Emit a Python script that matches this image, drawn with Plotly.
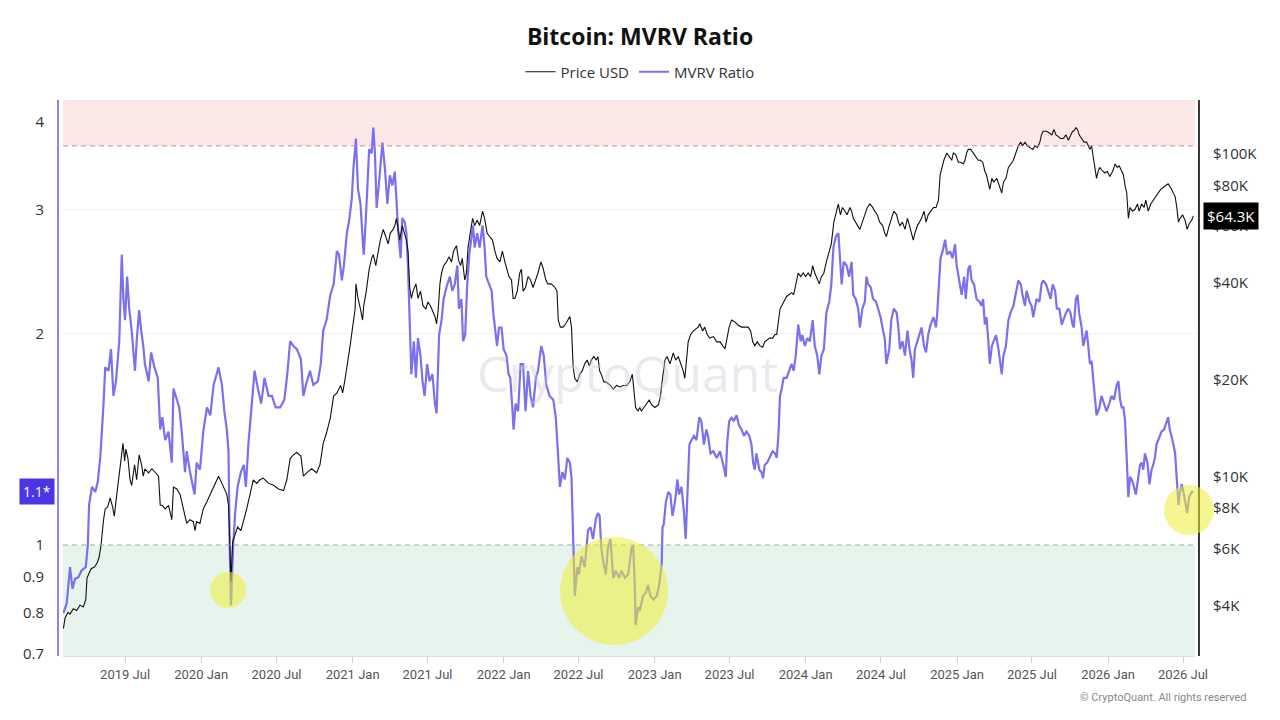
import numpy as np
import plotly.graph_objects as go

# ---------------- data ----------------
mvrv_dates = [
    "2019-02-02", "2019-02-10", "2019-02-18", "2019-02-24", "2019-03-02", "2019-03-10", "2019-03-18", "2019-03-28",
    "2019-04-02", "2019-04-05", "2019-04-12", "2019-04-20", "2019-04-26", "2019-05-02", "2019-05-10", "2019-05-14",
    "2019-05-22", "2019-05-28", "2019-06-03", "2019-06-09", "2019-06-17", "2019-06-23", "2019-06-27", "2019-07-01",
    "2019-07-06", "2019-07-11", "2019-07-17", "2019-07-25", "2019-07-29", "2019-08-04", "2019-08-09", "2019-08-14",
    "2019-08-18", "2019-08-27", "2019-09-02", "2019-09-10", "2019-09-18", "2019-09-24", "2019-09-29", "2019-10-06",
    "2019-10-14", "2019-10-22", "2019-10-26", "2019-11-01", "2019-11-09", "2019-11-15", "2019-11-23", "2019-11-27",
    "2019-12-05", "2019-12-16", "2019-12-21", "2019-12-29", "2020-01-06", "2020-01-15", "2020-01-23", "2020-01-31",
    "2020-02-12", "2020-02-20", "2020-02-26", "2020-03-03", "2020-03-07", "2020-03-10", "2020-03-13", "2020-03-18",
    "2020-03-23", "2020-03-29", "2020-04-06", "2020-04-13", "2020-04-18", "2020-04-24", "2020-05-02", "2020-05-09",
    "2020-05-17", "2020-05-25", "2020-06-02", "2020-06-12", "2020-06-20", "2020-06-29", "2020-07-10", "2020-07-20",
    "2020-07-27", "2020-08-03", "2020-08-11", "2020-08-19", "2020-08-29", "2020-09-04", "2020-09-10", "2020-09-20",
    "2020-09-28", "2020-10-09", "2020-10-16", "2020-10-22", "2020-10-30", "2020-11-08", "2020-11-16", "2020-11-24",
    "2020-11-29", "2020-12-06", "2020-12-11", "2020-12-18", "2020-12-23", "2020-12-30", "2021-01-03", "2021-01-07",
    "2021-01-09", "2021-01-14", "2021-01-20", "2021-01-26", "2021-01-28", "2021-02-02", "2021-02-10", "2021-02-16",
    "2021-02-20", "2021-02-24", "2021-02-28", "2021-03-06", "2021-03-14", "2021-03-20", "2021-03-26", "2021-04-01",
    "2021-04-07", "2021-04-13", "2021-04-17", "2021-04-21", "2021-04-27", "2021-05-01", "2021-05-07", "2021-05-11",
    "2021-05-15", "2021-05-19", "2021-05-23", "2021-05-29", "2021-06-03", "2021-06-08", "2021-06-14", "2021-06-19",
    "2021-06-24", "2021-06-30", "2021-07-06", "2021-07-13", "2021-07-19", "2021-07-23", "2021-07-29", "2021-08-04",
    "2021-08-09", "2021-08-16", "2021-08-24", "2021-08-30", "2021-09-05", "2021-09-11", "2021-09-15", "2021-09-21",
    "2021-09-25", "2021-09-30", "2021-10-05", "2021-10-10", "2021-10-15", "2021-10-19", "2021-10-23", "2021-10-29",
    "2021-11-04", "2021-11-11", "2021-11-16", "2021-11-20", "2021-11-27", "2021-12-03", "2021-12-07", "2021-12-11",
    "2021-12-16", "2021-12-21", "2021-12-27", "2022-01-01", "2022-01-08", "2022-01-13", "2022-01-17", "2022-01-22",
    "2022-01-25", "2022-01-30", "2022-02-05", "2022-02-11", "2022-02-17", "2022-02-23", "2022-03-01", "2022-03-07",
    "2022-03-13", "2022-03-20", "2022-03-25", "2022-04-02", "2022-04-08", "2022-04-14", "2022-04-22", "2022-05-01",
    "2022-05-07", "2022-05-13", "2022-05-17", "2022-05-23", "2022-05-29", "2022-06-04", "2022-06-10", "2022-06-14",
    "2022-06-18", "2022-06-22", "2022-06-28", "2022-07-02", "2022-07-08", "2022-07-16", "2022-07-24", "2022-07-30",
    "2022-08-05", "2022-08-12", "2022-08-17", "2022-08-21", "2022-08-25", "2022-08-29", "2022-09-05", "2022-09-10",
    "2022-09-16", "2022-09-23", "2022-09-29", "2022-10-07", "2022-10-13", "2022-10-21", "2022-10-29", "2022-11-06",
    "2022-11-10", "2022-11-14", "2022-11-16", "2022-11-22", "2022-11-26", "2022-11-28", "2022-12-04", "2022-12-11",
    "2022-12-16", "2022-12-22", "2022-12-29", "2023-01-06", "2023-01-12", "2023-01-18", "2023-01-20", "2023-01-23",
    "2023-01-28", "2023-02-03", "2023-02-08", "2023-02-13", "2023-02-19", "2023-02-25", "2023-03-01", "2023-03-07",
    "2023-03-13", "2023-03-17", "2023-03-21", "2023-03-26", "2023-03-31", "2023-04-06", "2023-04-12", "2023-04-19",
    "2023-04-24", "2023-04-30", "2023-05-06", "2023-05-10", "2023-05-16", "2023-05-23", "2023-05-31", "2023-06-08",
    "2023-06-16", "2023-06-22", "2023-06-25", "2023-06-30", "2023-07-06", "2023-07-11", "2023-07-18", "2023-07-24",
    "2023-07-30", "2023-08-05", "2023-08-11", "2023-08-18", "2023-08-23", "2023-08-27", "2023-08-31", "2023-09-04",
    "2023-09-11", "2023-09-16", "2023-09-20", "2023-09-24", "2023-09-30", "2023-10-06", "2023-10-13", "2023-10-19",
    "2023-10-23", "2023-10-27", "2023-10-31", "2023-11-04", "2023-11-09", "2023-11-16", "2023-11-22", "2023-11-28",
    "2023-12-03", "2023-12-08", "2023-12-14", "2023-12-20", "2023-12-24", "2023-12-30", "2024-01-05", "2024-01-11",
    "2024-01-18", "2024-01-23", "2024-01-29", "2024-02-03", "2024-02-08", "2024-02-14", "2024-02-20", "2024-02-27",
    "2024-03-03", "2024-03-08", "2024-03-14", "2024-03-20", "2024-03-24", "2024-03-28", "2024-04-02", "2024-04-09",
    "2024-04-15", "2024-04-21", "2024-04-25", "2024-05-01", "2024-05-07", "2024-05-11", "2024-05-17", "2024-05-23",
    "2024-05-27", "2024-05-31", "2024-06-06", "2024-06-12", "2024-06-19", "2024-06-24", "2024-06-30", "2024-07-06",
    "2024-07-10", "2024-07-14", "2024-07-21", "2024-07-26", "2024-08-01", "2024-08-08", "2024-08-12", "2024-08-16",
    "2024-08-22", "2024-08-28", "2024-09-03", "2024-09-08", "2024-09-13", "2024-09-17", "2024-09-21", "2024-09-27",
    "2024-10-02", "2024-10-07", "2024-10-13", "2024-10-18", "2024-10-23", "2024-10-29", "2024-11-05", "2024-11-11",
    "2024-11-14", "2024-11-19", "2024-11-22", "2024-11-27", "2024-12-03", "2024-12-08", "2024-12-15", "2024-12-21",
    "2024-12-27", "2024-12-31", "2025-01-04", "2025-01-08", "2025-01-12", "2025-01-18", "2025-01-22", "2025-01-28",
    "2025-02-01", "2025-02-05", "2025-02-11", "2025-02-17", "2025-02-24", "2025-03-01", "2025-03-05", "2025-03-09",
    "2025-03-13", "2025-03-17", "2025-03-21", "2025-03-26", "2025-03-31", "2025-04-05", "2025-04-11", "2025-04-15",
    "2025-04-19", "2025-04-23", "2025-04-29", "2025-05-05", "2025-05-10", "2025-05-17", "2025-05-23", "2025-05-29",
    "2025-06-04", "2025-06-08", "2025-06-14", "2025-06-18", "2025-06-25", "2025-06-30", "2025-07-04", "2025-07-08",
    "2025-07-12", "2025-07-19", "2025-07-24", "2025-07-28", "2025-08-04", "2025-08-09", "2025-08-15", "2025-08-20",
    "2025-08-26", "2025-08-30", "2025-09-05", "2025-09-11", "2025-09-15", "2025-09-21", "2025-09-27", "2025-10-02",
    "2025-10-07", "2025-10-10", "2025-10-15", "2025-10-19", "2025-10-23", "2025-10-29", "2025-11-02", "2025-11-06",
    "2025-11-10", "2025-11-14", "2025-11-18", "2025-11-22", "2025-11-26", "2025-11-30", "2025-12-04", "2025-12-11",
    "2025-12-16", "2025-12-22", "2025-12-28", "2026-01-04", "2026-01-09", "2026-01-15", "2026-01-22", "2026-01-26",
    "2026-01-30", "2026-02-03", "2026-02-07", "2026-02-11", "2026-02-15", "2026-02-19", "2026-02-23", "2026-02-27",
    "2026-03-03", "2026-03-09", "2026-03-15", "2026-03-19", "2026-03-23", "2026-03-27", "2026-03-31", "2026-04-06",
    "2026-04-11", "2026-04-16", "2026-04-20", "2026-04-24", "2026-04-28", "2026-05-05", "2026-05-10", "2026-05-16",
    "2026-05-22", "2026-05-26", "2026-05-30", "2026-06-03", "2026-06-08", "2026-06-12", "2026-06-16", "2026-06-20",
    "2026-06-24", "2026-06-28", "2026-07-02", "2026-07-06", "2026-07-11", "2026-07-16", "2026-07-22", "2026-07-26",
]
mvrv_values = [
    0.80, 0.826, 0.93, 0.866, 0.895, 0.90, 0.92, 0.93,
    1.00, 1.14, 1.21, 1.19, 1.23, 1.33, 1.59, 1.79,
    1.77, 1.90, 1.63, 1.71, 1.95, 2.59, 2.24, 2.09,
    2.41, 2.17, 2.02, 1.77, 1.95, 2.16, 2.02, 1.92,
    1.81, 1.71, 1.88, 1.79, 1.73, 1.46, 1.52, 1.41,
    1.45, 1.31, 1.67, 1.63, 1.57, 1.45, 1.27, 1.36,
    1.27, 1.18, 1.31, 1.28, 1.45, 1.57, 1.53, 1.69,
    1.79, 1.69, 1.55, 1.46, 1.36, 0.99, 0.82, 0.99,
    1.11, 1.21, 1.27, 1.30, 1.21, 1.39, 1.59, 1.77,
    1.67, 1.59, 1.73, 1.63, 1.63, 1.57, 1.57, 1.61,
    1.75, 1.95, 1.92, 1.90, 1.84, 1.63, 1.69, 1.77,
    1.69, 1.71, 1.81, 2.02, 2.09, 2.27, 2.35, 2.62,
    2.59, 2.38, 2.50, 2.78, 2.88, 3.11, 3.44, 3.70,
    3.79, 3.21, 3.06, 2.68, 2.59, 2.92, 3.66, 3.61,
    3.93, 3.61, 3.02, 3.29, 3.74, 3.44, 3.06, 3.36,
    3.25, 3.40, 3.06, 2.81, 2.56, 2.92, 2.88, 2.78,
    2.47, 2.14, 1.75, 1.95, 1.73, 1.97, 1.86, 1.71,
    1.63, 1.81, 1.71, 1.75, 1.59, 1.54, 1.99, 2.09,
    2.24, 2.33, 2.41, 2.30, 2.35, 2.50, 2.17, 2.24,
    1.95, 1.99, 2.35, 2.59, 2.75, 2.85, 2.65, 2.78,
    2.65, 2.85, 2.65, 2.41, 2.35, 2.30, 2.14, 2.04,
    1.92, 2.04, 2.04, 1.90, 1.86, 1.75, 1.73, 1.57,
    1.46, 1.59, 1.55, 1.81, 1.81, 1.55, 1.77, 1.63,
    1.57, 1.73, 1.77, 1.92, 1.86, 1.69, 1.63, 1.61,
    1.52, 1.33, 1.21, 1.27, 1.24, 1.33, 1.31, 1.25,
    0.99, 0.846, 0.93, 0.908, 0.964, 0.93, 1.05, 1.06,
    1.02, 1.09, 1.11, 1.10, 0.99, 0.953, 0.908, 0.99,
    1.02, 0.898, 0.919, 0.898, 0.919, 0.898, 0.908, 0.99,
    1.00, 0.877, 0.769, 0.816, 0.806, 0.816, 0.846, 0.856,
    0.877, 0.846, 0.836, 0.846, 0.877, 0.942, 1.06, 1.07,
    1.15, 1.19, 1.18, 1.10, 1.15, 1.24, 1.18, 1.21,
    1.11, 1.02, 1.21, 1.39, 1.41, 1.43, 1.41, 1.52,
    1.50, 1.39, 1.46, 1.43, 1.35, 1.36, 1.33, 1.36,
    1.30, 1.25, 1.39, 1.50, 1.52, 1.50, 1.53, 1.48,
    1.46, 1.43, 1.45, 1.43, 1.39, 1.31, 1.28, 1.35,
    1.28, 1.27, 1.245, 1.30, 1.31, 1.33, 1.36, 1.35,
    1.33, 1.43, 1.63, 1.67, 1.73, 1.73, 1.77, 1.81,
    1.77, 1.86, 2.06, 1.95, 1.99, 1.92, 1.97, 1.95,
    2.09, 1.92, 1.86, 1.75, 1.86, 1.90, 2.14, 2.22,
    2.35, 2.65, 2.75, 2.78, 2.56, 2.35, 2.53, 2.50,
    2.41, 2.53, 2.27, 2.24, 2.17, 2.04, 2.17, 2.22,
    2.41, 2.35, 2.33, 2.24, 2.22, 2.17, 2.11, 2.02,
    1.97, 1.81, 1.90, 2.09, 2.17, 2.14, 2.04, 1.90,
    1.95, 1.86, 2.02, 1.90, 1.83, 1.73, 1.90, 1.95,
    1.99, 2.04, 1.92, 1.88, 1.99, 2.06, 2.11, 2.04,
    2.14, 2.41, 2.56, 2.62, 2.72, 2.59, 2.62, 2.56,
    2.68, 2.50, 2.41, 2.33, 2.27, 2.41, 2.24, 2.47,
    2.50, 2.38, 2.35, 2.24, 2.22, 2.19, 2.24, 2.06,
    2.11, 1.97, 1.81, 1.92, 1.95, 1.99, 1.90, 1.81,
    1.75, 1.86, 1.92, 2.09, 2.14, 2.19, 2.30, 2.38,
    2.35, 2.27, 2.19, 2.30, 2.22, 2.19, 2.11, 2.19,
    2.24, 2.22, 2.35, 2.38, 2.35, 2.30, 2.24, 2.35,
    2.30, 2.17, 2.17, 2.06, 2.09, 2.14, 2.17, 2.14,
    2.06, 2.04, 2.24, 2.27, 2.14, 2.04, 1.92, 1.97,
    2.02, 1.92, 1.81, 1.83, 1.71, 1.63, 1.53, 1.57,
    1.63, 1.59, 1.55, 1.59, 1.63, 1.61, 1.69, 1.71,
    1.61, 1.57, 1.57, 1.50, 1.33, 1.17, 1.25, 1.24,
    1.22, 1.18, 1.25, 1.30, 1.31, 1.28, 1.35, 1.31,
    1.22, 1.28, 1.30, 1.33, 1.39, 1.43, 1.45, 1.46,
    1.50, 1.52, 1.46, 1.43, 1.39, 1.35, 1.24, 1.14,
    1.19, 1.22, 1.19, 1.15, 1.11, 1.17, 1.19, 1.19,
]

price_dates = [
    "2019-02-02", "2019-02-06", "2019-02-13", "2019-02-18", "2019-02-26", "2019-03-06", "2019-03-14", "2019-03-22",
    "2019-03-28", "2019-03-31", "2019-04-04", "2019-04-10", "2019-04-18", "2019-04-24", "2019-04-29", "2019-05-04",
    "2019-05-10", "2019-05-14", "2019-05-20", "2019-05-26", "2019-06-01", "2019-06-05", "2019-06-11", "2019-06-19",
    "2019-06-26", "2019-06-30", "2019-07-03", "2019-07-08", "2019-07-13", "2019-07-17", "2019-07-24", "2019-07-29",
    "2019-08-04", "2019-08-10", "2019-08-14", "2019-08-18", "2019-08-27", "2019-09-04", "2019-09-12", "2019-09-20",
    "2019-09-24", "2019-09-29", "2019-10-06", "2019-10-14", "2019-10-22", "2019-10-26", "2019-11-03", "2019-11-11",
    "2019-11-19", "2019-11-27", "2019-12-05", "2019-12-13", "2019-12-17", "2019-12-21", "2019-12-29", "2020-01-06",
    "2020-01-15", "2020-01-23", "2020-01-31", "2020-02-12", "2020-02-20", "2020-02-28", "2020-03-03", "2020-03-07",
    "2020-03-10", "2020-03-13", "2020-03-17", "2020-03-23", "2020-03-29", "2020-04-06", "2020-04-12", "2020-04-20",
    "2020-04-28", "2020-05-06", "2020-05-14", "2020-05-22", "2020-05-30", "2020-06-12", "2020-06-24", "2020-07-06",
    "2020-07-18", "2020-07-26", "2020-08-03", "2020-08-11", "2020-08-19", "2020-08-29", "2020-09-04", "2020-09-12",
    "2020-09-24", "2020-10-06", "2020-10-14", "2020-10-22", "2020-10-30", "2020-11-08", "2020-11-16", "2020-11-24",
    "2020-12-03", "2020-12-08", "2020-12-14", "2020-12-20", "2020-12-26", "2021-01-01", "2021-01-07", "2021-01-09",
    "2021-01-14", "2021-01-20", "2021-01-25", "2021-01-28", "2021-02-03", "2021-02-10", "2021-02-16", "2021-02-20",
    "2021-02-26", "2021-03-04", "2021-03-09", "2021-03-16", "2021-03-22", "2021-03-28", "2021-04-02", "2021-04-09",
    "2021-04-13", "2021-04-17", "2021-04-21", "2021-04-25", "2021-05-01", "2021-05-07", "2021-05-11", "2021-05-15",
    "2021-05-19", "2021-05-23", "2021-05-27", "2021-06-03", "2021-06-08", "2021-06-14", "2021-06-20", "2021-06-27",
    "2021-07-02", "2021-07-08", "2021-07-15", "2021-07-19", "2021-07-23", "2021-07-27", "2021-07-31", "2021-08-04",
    "2021-08-09", "2021-08-16", "2021-08-22", "2021-08-28", "2021-09-02", "2021-09-09", "2021-09-14", "2021-09-19",
    "2021-09-23", "2021-09-29", "2021-10-03", "2021-10-07", "2021-10-11", "2021-10-18", "2021-10-23", "2021-10-29",
    "2021-11-04", "2021-11-11", "2021-11-16", "2021-11-22", "2021-11-28", "2021-12-05", "2021-12-11", "2021-12-16",
    "2021-12-23", "2021-12-29", "2022-01-04", "2022-01-09", "2022-01-14", "2022-01-20", "2022-01-24", "2022-01-28",
    "2022-02-03", "2022-02-09", "2022-02-13", "2022-02-17", "2022-02-23", "2022-03-01", "2022-03-07", "2022-03-13",
    "2022-03-20", "2022-03-25", "2022-04-01", "2022-04-06", "2022-04-13", "2022-04-18", "2022-04-26", "2022-05-05",
    "2022-05-10", "2022-05-13", "2022-05-18", "2022-05-25", "2022-05-31", "2022-06-06", "2022-06-10", "2022-06-14",
    "2022-06-18", "2022-06-22", "2022-06-28", "2022-07-04", "2022-07-10", "2022-07-16", "2022-07-22", "2022-07-27",
    "2022-08-01", "2022-08-07", "2022-08-13", "2022-08-17", "2022-08-21", "2022-08-25", "2022-08-31", "2022-09-05",
    "2022-09-10", "2022-09-16", "2022-09-23", "2022-10-01", "2022-10-09", "2022-10-17", "2022-10-25", "2022-11-02",
    "2022-11-08", "2022-11-13", "2022-11-16", "2022-11-22", "2022-11-26", "2022-11-30", "2022-12-06", "2022-12-12",
    "2022-12-19", "2022-12-25", "2023-01-02", "2023-01-10", "2023-01-15", "2023-01-20", "2023-01-26", "2023-01-31",
    "2023-02-07", "2023-02-15", "2023-02-21", "2023-02-27", "2023-03-05", "2023-03-11", "2023-03-15", "2023-03-19",
    "2023-03-23", "2023-03-29", "2023-04-04", "2023-04-16", "2023-04-20", "2023-04-27", "2023-05-02", "2023-05-08",
    "2023-05-14", "2023-05-23", "2023-05-31", "2023-06-08", "2023-06-14", "2023-06-20", "2023-06-25", "2023-06-30",
    "2023-07-06", "2023-07-14", "2023-07-22", "2023-07-30", "2023-08-07", "2023-08-15", "2023-08-21", "2023-08-26",
    "2023-08-31", "2023-09-06", "2023-09-12", "2023-09-19", "2023-09-24", "2023-09-30", "2023-10-06", "2023-10-13",
    "2023-10-19", "2023-10-23", "2023-10-27", "2023-10-31", "2023-11-04", "2023-11-09", "2023-11-16", "2023-11-22",
    "2023-11-28", "2023-12-03", "2023-12-08", "2023-12-14", "2023-12-20", "2023-12-26", "2024-01-01", "2024-01-07",
    "2024-01-13", "2024-01-18", "2024-01-23", "2024-01-29", "2024-02-03", "2024-02-08", "2024-02-14", "2024-02-20",
    "2024-02-27", "2024-03-03", "2024-03-09", "2024-03-14", "2024-03-20", "2024-03-25", "2024-03-30", "2024-04-05",
    "2024-04-10", "2024-04-17", "2024-04-21", "2024-04-25", "2024-05-01", "2024-05-07", "2024-05-11", "2024-05-17",
    "2024-05-23", "2024-05-29", "2024-06-04", "2024-06-11", "2024-06-16", "2024-06-22", "2024-06-28", "2024-07-05",
    "2024-07-10", "2024-07-14", "2024-07-21", "2024-07-26", "2024-08-01", "2024-08-08", "2024-08-12", "2024-08-16",
    "2024-08-22", "2024-08-28", "2024-09-03", "2024-09-08", "2024-09-13", "2024-09-17", "2024-09-21", "2024-09-27",
    "2024-10-02", "2024-10-07", "2024-10-13", "2024-10-18", "2024-10-23", "2024-10-29", "2024-11-05", "2024-11-11",
    "2024-11-17", "2024-11-21", "2024-11-25", "2024-11-30", "2024-12-07", "2024-12-13", "2024-12-19", "2024-12-23",
    "2024-12-29", "2025-01-04", "2025-01-10", "2025-01-16", "2025-01-20", "2025-01-24", "2025-01-28", "2025-02-03",
    "2025-02-09", "2025-02-16", "2025-02-21", "2025-02-27", "2025-03-04", "2025-03-09", "2025-03-13", "2025-03-17",
    "2025-03-21", "2025-03-26", "2025-03-31", "2025-04-07", "2025-04-13", "2025-04-19", "2025-04-23", "2025-04-29",
    "2025-05-05", "2025-05-10", "2025-05-17", "2025-05-23", "2025-05-29", "2025-06-04", "2025-06-08", "2025-06-14",
    "2025-06-20", "2025-06-26", "2025-07-03", "2025-07-08", "2025-07-14", "2025-07-20", "2025-07-24", "2025-07-28",
    "2025-08-05", "2025-08-12", "2025-08-18", "2025-08-23", "2025-08-28", "2025-09-03", "2025-09-08", "2025-09-15",
    "2025-09-21", "2025-09-27", "2025-10-02", "2025-10-07", "2025-10-10", "2025-10-15", "2025-10-19", "2025-10-23",
    "2025-10-29", "2025-11-04", "2025-11-10", "2025-11-14", "2025-11-18", "2025-11-22", "2025-11-26", "2025-11-30",
    "2025-12-04", "2025-12-08", "2025-12-12", "2025-12-19", "2025-12-24", "2025-12-30", "2026-01-05", "2026-01-12",
    "2026-01-18", "2026-01-23", "2026-01-28", "2026-02-03", "2026-02-07", "2026-02-11", "2026-02-15", "2026-02-19",
    "2026-02-23", "2026-03-01", "2026-03-07", "2026-03-13", "2026-03-17", "2026-03-23", "2026-03-29", "2026-04-02",
    "2026-04-08", "2026-04-14", "2026-04-20", "2026-04-27", "2026-05-02", "2026-05-08", "2026-05-14", "2026-05-21",
    "2026-05-26", "2026-06-01", "2026-06-08", "2026-06-12", "2026-06-16", "2026-06-20", "2026-06-24", "2026-06-30",
    "2026-07-06", "2026-07-11", "2026-07-16", "2026-07-22", "2026-07-26",
]
price_values = [
    3390, 3660, 3810, 3760, 3910, 3860, 4010, 3960,
    4170, 4870, 5000, 5200, 5260, 5400, 5620, 6150,
    7370, 7960, 8070, 8610, 8070, 7560, 8830, 10600,
    12700, 11200, 12200, 11400, 9800, 9420, 10900, 9800,
    11700, 10900, 10050, 10600, 10300, 10600, 10300, 10050,
    8170, 8170, 7960, 8170, 7370, 9300, 9180, 8830,
    7960, 7180, 7370, 7270, 6820, 7270, 7180, 7960,
    8390, 8830, 9300, 10050, 9550, 9070, 8830, 8170,
    5990, 4750, 6310, 6640, 7000, 6820, 7270, 7960,
    8830, 9800, 9550, 9800, 9920, 9550, 9420, 9180,
    9070, 9800, 11400, 11700, 11900, 11600, 10050, 10300,
    10600, 10300, 10900, 12700, 13700, 15200, 17800, 18200,
    19200, 18200, 20200, 22400, 25500, 29100, 33100, 39600,
    35700, 33100, 30600, 33900, 37600, 44000, 47500, 48800,
    45100, 50000, 54100, 58400, 55500, 52700, 56900, 58400,
    60000, 63200, 58400, 54100, 60000, 56900, 54100, 50000,
    38600, 35700, 37600, 39600, 35700, 37600, 33900, 33100,
    34800, 33900, 32200, 31400, 29800, 33100, 39600, 42800,
    45100, 46300, 48100, 46300, 50000, 52000, 46900, 45100,
    47500, 40700, 42800, 51300, 55500, 63200, 60000, 62300,
    60000, 66500, 63200, 56900, 55500, 54100, 50000, 47500,
    46300, 50000, 46300, 44000, 41700, 40700, 35700, 35700,
    37600, 42800, 44000, 37600, 38600, 41700, 40700, 38600,
    40700, 42800, 46300, 44500, 40700, 39600, 39600, 38600,
    37600, 30600, 29100, 29100, 29800, 30600, 31400, 29100,
    21900, 20200, 19700, 20800, 21300, 22400, 23000, 22100,
    23000, 23600, 23000, 23600, 21300, 20800, 19700, 19700,
    19500, 19200, 18700, 19200, 19000, 19200, 19200, 19700,
    20800, 18200, 16400, 16000, 16400, 16000, 16400, 16900,
    17300, 16700, 16400, 16700, 17800, 20200, 23000, 23600,
    22400, 24200, 23000, 23600, 22400, 21300, 20200, 23000,
    26200, 27600, 28300, 29100, 29800, 28300, 29100, 27600,
    26900, 27200, 26200, 26200, 25500, 24900, 26900, 29100,
    30600, 30200, 29500, 29100, 29100, 29100, 28300, 26200,
    25500, 26200, 25500, 25200, 26200, 26500, 26900, 26900,
    27600, 27600, 29800, 33100, 33900, 34800, 36200, 36700,
    37200, 36700, 39600, 42800, 41700, 42800, 41700, 42800,
    41700, 45100, 42800, 40700, 39600, 41700, 42800, 46300,
    50000, 52700, 61500, 64800, 70000, 64800, 68300, 66500,
    64800, 68300, 66500, 63200, 61500, 60000, 58400, 61500,
    64800, 68300, 70000, 68300, 66500, 64800, 61500, 60000,
    56900, 55500, 60000, 63200, 66500, 64800, 61500, 60000,
    61500, 58400, 63200, 60000, 56900, 54100, 56900, 60000,
    61500, 63200, 66500, 61500, 64800, 66500, 68300, 68300,
    71900, 86200, 90800, 95600, 100700, 98100, 95600, 100700,
    99400, 94300, 94300, 93100, 95600, 100700, 103300, 103300,
    100700, 98100, 95600, 95600, 94300, 88400, 86200, 81800,
    77700, 84000, 81800, 84000, 79700, 75700, 81800, 84000,
    90800, 93100, 95600, 100700, 106000, 108800, 106000, 108800,
    106000, 104600, 103300, 106000, 104600, 108800, 114600, 117600,
    117600, 116100, 114600, 119100, 114600, 113100, 111600, 111600,
    114600, 110200, 114600, 117600, 117600, 120600, 119100, 114600,
    111600, 108800, 108800, 106000, 103300, 106000, 98100, 90800,
    84000, 88400, 90800, 88400, 87300, 88400, 85100, 88400,
    93100, 90800, 91900, 88400, 86200, 79700, 75700, 63200,
    68300, 66500, 67400, 70000, 66500, 70000, 68300, 71900,
    66500, 70000, 71900, 73800, 75700, 77700, 78700, 79700,
    80800, 78700, 75700, 73800, 68300, 61500, 63200, 64800,
    62300, 58400, 60800, 62300, 64300,
]

mvrv_ticks = [0.7, 0.8, 0.9, 1, 2, 3, 4]
price_ticks = [4000, 6000, 8000, 10000, 20000, 40000, 60000, 80000, 100000]
price_tick_labels = ["$4K", "$6K", "$8K", "$10K", "$20K", "$40K", "$60K", "$80K", "$100K"]

MVRV_RANGE = [0.695, 4.30]
PRICE_RANGE = [2790, 146900]
X_RANGE = ["2019-02-01", "2026-07-30"]
OVERHEATED = 3.7
UNDERVALUED = 1.0

MVRV_COLOR = "#7b70ef"

# ---------------- figure ----------------
fig = go.Figure()

fig.add_trace(go.Scatter(
    x=mvrv_dates, y=mvrv_values, name="MVRV Ratio", mode="lines",
    line=dict(color=MVRV_COLOR, width=2.2), yaxis="y", legendrank=2,
))
fig.add_trace(go.Scatter(
    x=price_dates, y=price_values, name="Price USD", mode="lines",
    line=dict(color="#111111", width=1.1), yaxis="y2", legendrank=1,
))

lo, hi = np.log10(MVRV_RANGE)


def mvrv_frac(v):
    """Fraction of the plot height at which an MVRV value sits on the log axis."""
    return float((np.log10(v) - lo) / (hi - lo))


f_hot = mvrv_frac(OVERHEATED)
f_low = mvrv_frac(UNDERVALUED)

shapes = [
    # overheated band (red)
    dict(type="rect", xref="paper", yref="paper", x0=0, x1=1, y0=f_hot, y1=1,
         fillcolor="#fde8e8", line_width=0, layer="below"),
    dict(type="line", xref="paper", yref="paper", x0=0, x1=1, y0=f_hot, y1=f_hot,
         line=dict(color="#d68c8c", width=1, dash="5px,4px"), layer="above"),
    # undervalued band (green)
    dict(type="rect", xref="paper", yref="paper", x0=0, x1=1, y0=0, y1=f_low,
         fillcolor="#e7f4ed", line_width=0, layer="below"),
    dict(type="line", xref="paper", yref="paper", x0=0, x1=1, y0=f_low, y1=f_low,
         line=dict(color="#8dba8d", width=1, dash="5px,4px"), layer="above"),
    # axis lines
    dict(type="line", xref="paper", yref="paper", x0=-0.0044, x1=-0.0044, y0=0, y1=1,
         line=dict(color="#8c84ee", width=2)),
    dict(type="line", xref="paper", yref="paper", x0=1.0035, x1=1.0035, y0=0, y1=1,
         line=dict(color="#333333", width=2)),
    # highlight circles
    dict(type="circle", xref="paper", yref="paper", x0=0.1299, x1=0.1617, y0=0.0863, y1=0.1511,
         fillcolor="rgba(238,238,55,0.55)", line_width=0, layer="above"),
    dict(type="circle", xref="paper", yref="paper", x0=0.4391, x1=0.5345, y0=0.0197, y1=0.2140,
         fillcolor="rgba(238,238,55,0.55)", line_width=0, layer="above"),
    dict(type="circle", xref="paper", yref="paper", x0=0.9726, x1=1.0168, y0=0.2176, y1=0.3076,
         fillcolor="rgba(238,238,55,0.55)", line_width=0, layer="above"),
]

annotations = [
    dict(text="CryptoQuant", xref="paper", yref="paper", x=0.499, y=0.509,
         showarrow=False, font=dict(family="Open Sans", size=50, color="rgba(200,200,214,0.40)")),
    dict(text="1.1*", xref="paper", yref="y", x=-0.0075, y=np.log10(mvrv_values[-1]),
         xanchor="right", yanchor="middle", showarrow=False, bgcolor="#4a36e6", borderpad=3,
         font=dict(family="Open Sans", size=14, color="white")),
    dict(text=f"${price_values[-1] / 1000:.1f}K", xref="paper", yref="y2", x=1.0071,
         y=np.log10(price_values[-1]), xanchor="left", yanchor="middle", showarrow=False,
         bgcolor="#000000", borderpad=3, font=dict(family="Open Sans", size=15, color="white")),
    dict(text="© CryptoQuant. All rights reserved", xref="paper", yref="paper", x=1.0468, y=-0.0755,
         xanchor="right", yanchor="middle", showarrow=False,
         font=dict(family="Liberation Sans Narrow, Arial Narrow, Roboto", size=11, color="#888888")),
]

fig.update_layout(
    width=1280, height=720,
    margin=dict(l=63, r=85, t=100, b=64),
    paper_bgcolor="white", plot_bgcolor="white",
    title=dict(text="<b>Bitcoin: MVRV Ratio</b>", x=0.5, xref="container", xanchor="center",
               y=1 - 37 / 720, yref="container", yanchor="middle",
               font=dict(family="Open Sans", size=23, color="#111111")),
    legend=dict(orientation="h", xref="container", x=0.5, xanchor="center",
                yref="container", y=1 - 72 / 720, yanchor="middle",
                font=dict(family="Open Sans", size=15, color="#333333"),
                itemwidth=30, bgcolor="rgba(0,0,0,0)"),
    xaxis=dict(type="date", range=X_RANGE, dtick="M6", tick0="2019-01-01", tickformat="%Y %b",
               showgrid=False, showline=True, linecolor="#dddddd", linewidth=1,
               ticks="outside", ticklen=6, tickcolor="#d0d0d0",
               tickfont=dict(family="Liberation Sans Narrow, Arial Narrow, Roboto", size=13, color="#555555"),
               zeroline=False),
    yaxis=dict(type="log", range=[lo, hi], tickvals=mvrv_ticks, ticktext=[str(t) for t in mvrv_ticks],
               showgrid=True, gridcolor="#f1f1f1", gridwidth=1, zeroline=False, showline=False,
               ticks="outside", ticklen=15, tickcolor="rgba(0,0,0,0)",
               tickfont=dict(family="Open Sans", size=15, color="#333333")),
    yaxis2=dict(type="log", range=list(np.log10(PRICE_RANGE)), overlaying="y", side="right",
                tickvals=price_ticks, ticktext=price_tick_labels, showgrid=False, zeroline=False,
                showline=False, ticks="outside", ticklen=14, tickcolor="rgba(0,0,0,0)",
                tickfont=dict(family="Open Sans", size=15, color="#333333")),
    shapes=shapes,
    annotations=annotations,
    showlegend=True,
)

fig.write_html("out.html")
